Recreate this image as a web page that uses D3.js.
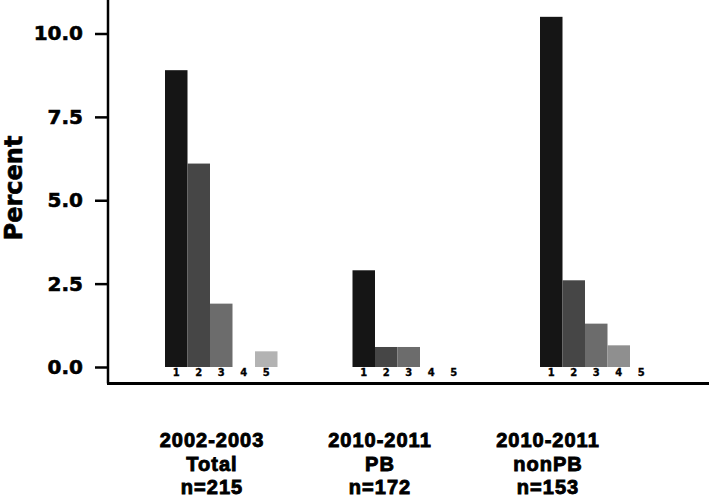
<script src="https://d3js.org/d3.v7.min.js"></script>

<div id="canvas"></div>

<style>
    body { margin: 0; background: #fff; }
    text { font-weight: bold; }
</style>

<script>
    const width = 709;
    const height = 499;

    // data
    const groups = ["2002-2003 Total", "2010-2011 PB", "2010-2011 nonPB"];
    const groupLines = [
        ["2002-2003", "Total", "n=215"],
        ["2010-2011", "PB", "n=172"],
        ["2010-2011", "nonPB", "n=153"]
    ];
    const categories = ["1", "2", "3", "4", "5"];
    const total0203 = [8.9, 6.1, 1.9, 0, 0.47];
    const pb1011 = [2.9, 0.6, 0.6, 0, 0];
    const nonpb1011 = [10.5, 2.6, 1.3, 0.65, 0];
    const yTicks = [0, 2.5, 5, 7.5, 10];
    const barColors = ["#151515", "#464646", "#6c6c6c", "#8f8f8f", "#b3b3b3"];

    const seriesByGroup = [total0203, pb1011, nonpb1011];

    const dataset = [];
    groups.forEach((g, gi) => {
        categories.forEach((c, ci) => {
            dataset.push({group: g, cat: c, value: seriesByGroup[gi][ci]});
        });
    });

    const svg = d3.select("#canvas")
        .append("svg")
        .attr("width", width)
        .attr("height", height);

    const axisX = 108;
    const axisY = 383.5;

    const y = d3.scaleLinear()
        .domain([0, 10])
        .range([367, 33.5]);

    const x0 = d3.scaleBand()
        .domain(groups)
        .range([165, 652.5])
        .paddingInner(0.4);

    const x1 = d3.scaleBand()
        .domain(categories)
        .range([0, x0.bandwidth()]);

    const color = d3.scaleOrdinal()
        .domain(categories)
        .range(barColors);

    // bars
    svg.selectAll("rect.bar")
        .data(dataset.filter(d => d.value > 0))
        .enter()
        .append("rect")
        .attr("class", "bar")
        .attr("x", d => x0(d.group) + x1(d.cat))
        .attr("y", d => y(d.value))
        .attr("width", x1.bandwidth())
        .attr("height", d => y(0) - y(d.value))
        .attr("fill", d => color(d.cat));

    // small category numbers under every slot
    svg.selectAll("text.cat")
        .data(dataset)
        .enter()
        .append("text")
        .attr("class", "cat")
        .attr("x", d => x0(d.group) + x1(d.cat) + x1.bandwidth() / 2)
        .attr("y", 376)
        .attr("text-anchor", "middle")
        .attr("stroke", "#000")
        .attr("stroke-width", 0.3)
        .style("font-family", "'DejaVu Sans'")
        .style("font-size", "10px")
        .text(d => d.cat);

    // y axis
    const yAxis = svg.append("g")
        .attr("transform", `translate(${axisX},0)`)
        .call(d3.axisLeft(y)
            .tickValues(yTicks)
            .tickFormat(d3.format(".1f"))
            .tickSize(13)
            .tickPadding(12));

    yAxis.select(".domain").remove();
    yAxis.selectAll(".tick line")
        .attr("stroke", "#000")
        .attr("stroke-width", 2.5);
    yAxis.selectAll(".tick text")
        .attr("fill", "#000")
        .attr("stroke", "#000")
        .attr("stroke-width", 0.6)
        .style("font-family", "'DejaVu Sans'")
        .style("font-size", "20px")
        .style("font-weight", "bold");

    svg.append("line")
        .attr("x1", axisX)
        .attr("x2", axisX)
        .attr("y1", 0)
        .attr("y2", axisY)
        .attr("stroke", "#000")
        .attr("stroke-width", 2.5);

    // x axis line
    svg.append("line")
        .attr("x1", axisX - 1)
        .attr("x2", width)
        .attr("y1", axisY)
        .attr("y2", axisY)
        .attr("stroke", "#000")
        .attr("stroke-width", 3);

    svg.append("text")
        .attr("transform", "translate(22,188) rotate(-90)")
        .attr("text-anchor", "middle")
        .attr("stroke", "#000")
        .attr("stroke-width", 0.6)
        .style("font-family", "'DejaVu Sans'")
        .style("font-size", "24px")
        .text("Percent");

    // group labels
    const labelX = d3.scalePoint()
        .domain(groups)
        .range([212, 548]);

    const labels = svg.selectAll("text.group")
        .data(groups)
        .enter()
        .append("text")
        .attr("class", "group")
        .attr("text-anchor", "middle")
        .attr("stroke", "#000")
        .attr("stroke-width", 0.9)
        .style("font-family", "'Liberation Sans', Arial")
        .style("font-size", "20px")
        .style("letter-spacing", "1px");

    labels.selectAll("tspan")
        .data((d, i) => groupLines[i].map(t => ({t, x: labelX(d)})))
        .enter()
        .append("tspan")
        .attr("x", d => d.x)
        .attr("y", (d, i) => 447 + i * 23.5)
        .text(d => d.t);
</script>
